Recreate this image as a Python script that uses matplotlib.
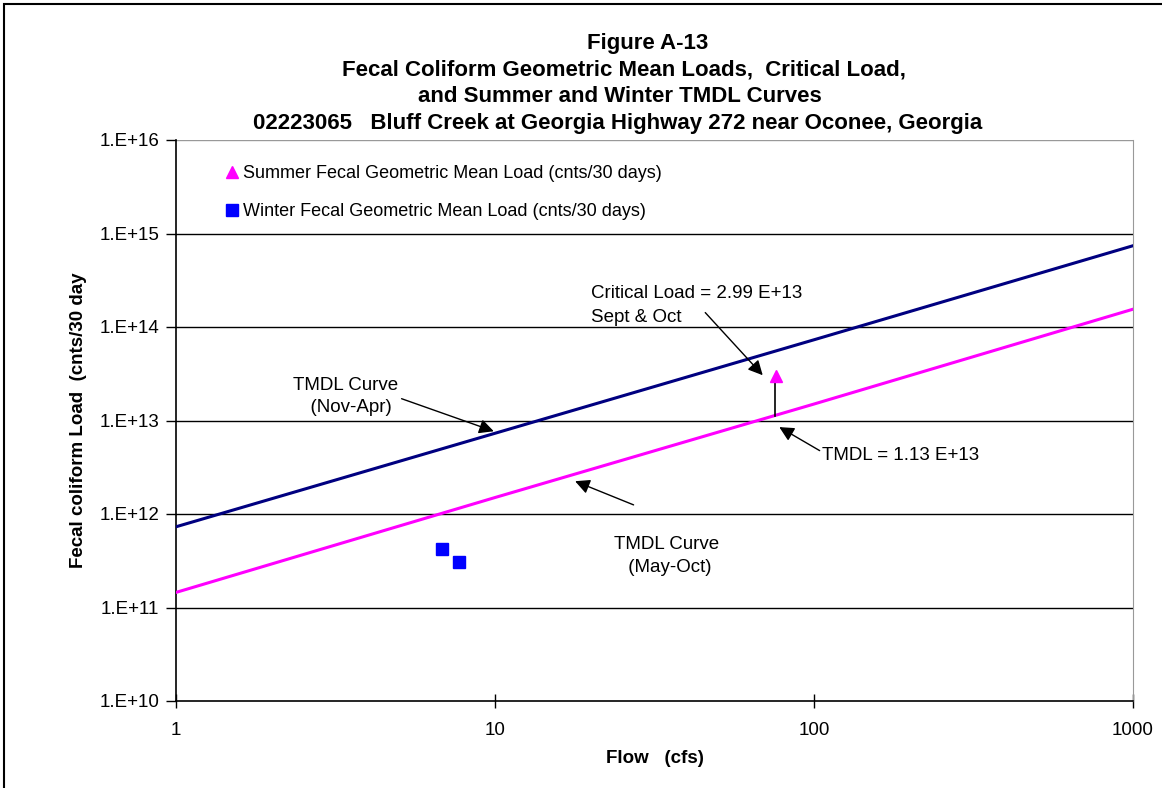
import numpy as np
import matplotlib
matplotlib.use('Agg')
import matplotlib.pyplot as plt
from matplotlib.patches import Rectangle

plt.rcParams['font.family'] = ['Liberation Sans', 'DejaVu Sans']

# TMDL curves (flow in cfs, load in counts/30 days)
curve_flow = [1, 10, 100, 1000]
winter_tmdl = [7.3e11, 7.3e12, 7.3e13, 7.4e14]   # Nov-Apr
summer_tmdl = [1.45e11, 1.5e12, 1.5e13, 1.55e14]  # May-Oct

# geometric mean loads
summer_flow = [76]
summer_load = [2.99e13]
winter_flow = [6.8, 7.7]
winter_load = [4.2e11, 3.1e11]

# critical condition
crit_flow = 75.3
crit_tmdl = 1.13e13
crit_load = 2.99e13

y_ticks = [1e10, 1e11, 1e12, 1e13, 1e14, 1e15, 1e16]
y_labels = ['1.E+10', '1.E+11', '1.E+12', '1.E+13', '1.E+14', '1.E+15', '1.E+16']
x_ticks = [1, 10, 100, 1000]
x_labels = ['1', '10', '100', '1000']

fig = plt.figure(figsize=(11.62, 7.88), dpi=100)
ax = fig.add_axes([176 / 1162, 87 / 788, 957 / 1162, 561 / 788])

ax.set_xscale('log')
ax.set_yscale('log')
ax.set_xlim(1, 1000)
ax.set_ylim(1e10, 1e16)

for yt in y_ticks[1:-1]:
    ax.axhline(yt, color='black', lw=1.0, zorder=1)
ax.axhline(1e16, color='#999999', lw=1.0, zorder=1)

ax.plot(curve_flow, winter_tmdl, color='#000080', lw=2.2, zorder=3)
ax.plot(curve_flow, summer_tmdl, color='#FF00FF', lw=2.2, zorder=3)

ax.plot([crit_flow, crit_flow], [crit_tmdl, crit_load * 0.9], color='black', lw=1.2, zorder=4)

ax.plot(summer_flow, summer_load, linestyle='none', marker='^', ms=9, color='#FF00FF',
        label='Summer Fecal Geometric Mean Load (cnts/30 days)', zorder=5)
ax.plot(winter_flow, winter_load, linestyle='none', marker='s', ms=8, color='#0000FF',
        label='Winter Fecal Geometric Mean Load (cnts/30 days)', zorder=5)

ax.set_yticks(y_ticks)
ax.set_yticklabels(y_labels)
ax.set_xticks(x_ticks)
ax.set_xticklabels(x_labels)
ax.minorticks_off()
ax.tick_params(axis='y', direction='out', length=7, width=1, labelsize=13.5, pad=5)
ax.tick_params(axis='x', direction='inout', length=10, width=1, labelsize=13.5, pad=10)

for s in ['left', 'bottom']:
    ax.spines[s].set_color('black')
    ax.spines[s].set_linewidth(1.2)
ax.spines['top'].set_visible(False)
ax.spines['right'].set_color('#999999')

ax.set_xlabel('Flow   (cfs)', fontsize=13.5, fontweight='bold', labelpad=8)
ax.set_ylabel('Fecal coliform Load  (cnts/30 day', fontsize=13.5, fontweight='bold', labelpad=9)

leg = ax.legend(loc='upper left', bbox_to_anchor=(0.045, 0.968), frameon=False, fontsize=13,
                handlelength=0.6, handletextpad=0.3, labelspacing=1.17, borderaxespad=0)

# annotations
arrow = dict(arrowstyle='-|>', color='black', lw=1.0, mutation_scale=22)
ax.annotate('', xy=(10.1, 7.5e12), xytext=(5.0, 1.75e13), arrowprops=arrow, zorder=6)
ax.text(3.4, 1.8e13, 'TMDL Curve\n  (Nov-Apr)', fontsize=13.5, ha='center', va='center',
        linespacing=1.35)

ax.annotate('', xy=(70, 2.9e13), xytext=(45, 1.5e14), arrowprops=arrow, zorder=6)
ax.text(20, 1.7e14, 'Critical Load = 2.99 E+13\nSept & Oct', fontsize=13.5, ha='left',
        va='center', linespacing=1.5)

ax.annotate('', xy=(76.5, 8.8e12), xytext=(106, 4.6e12), arrowprops=arrow, zorder=6)
ax.text(106, 4.2e12, 'TMDL = 1.13 E+13', fontsize=13.5, ha='left', va='center')

ax.annotate('', xy=(17.5, 2.3e12), xytext=(27.7, 1.22e12), arrowprops=arrow, zorder=6)
ax.text(34.6, 3.55e11, 'TMDL Curve\n (May-Oct)', fontsize=13.5, ha='center', va='center',
        linespacing=1.45)

# title
title_lines = ['Figure A-13',
               'Fecal Coliform Geometric Mean Loads,  Critical Load,',
               'and Summer and Winter TMDL Curves',
               '02223065   Bluff Creek at Georgia Highway 272 near Oconee, Georgia']
title_x = [648, 624, 620, 618]
for i, line in enumerate(title_lines):
    fig.text(title_x[i] / 1162, 1 - (43 + 27 * i) / 788, line, ha='center', va='center',
             fontsize=16, fontweight='bold')

# outer border
fig.patches.append(Rectangle((4 / 1162, -0.05), 1.2, 1.05 - 4 / 788, transform=fig.transFigure,
                             fill=False, edgecolor='black', lw=1.5))

fig.savefig('out.png', dpi=100)
